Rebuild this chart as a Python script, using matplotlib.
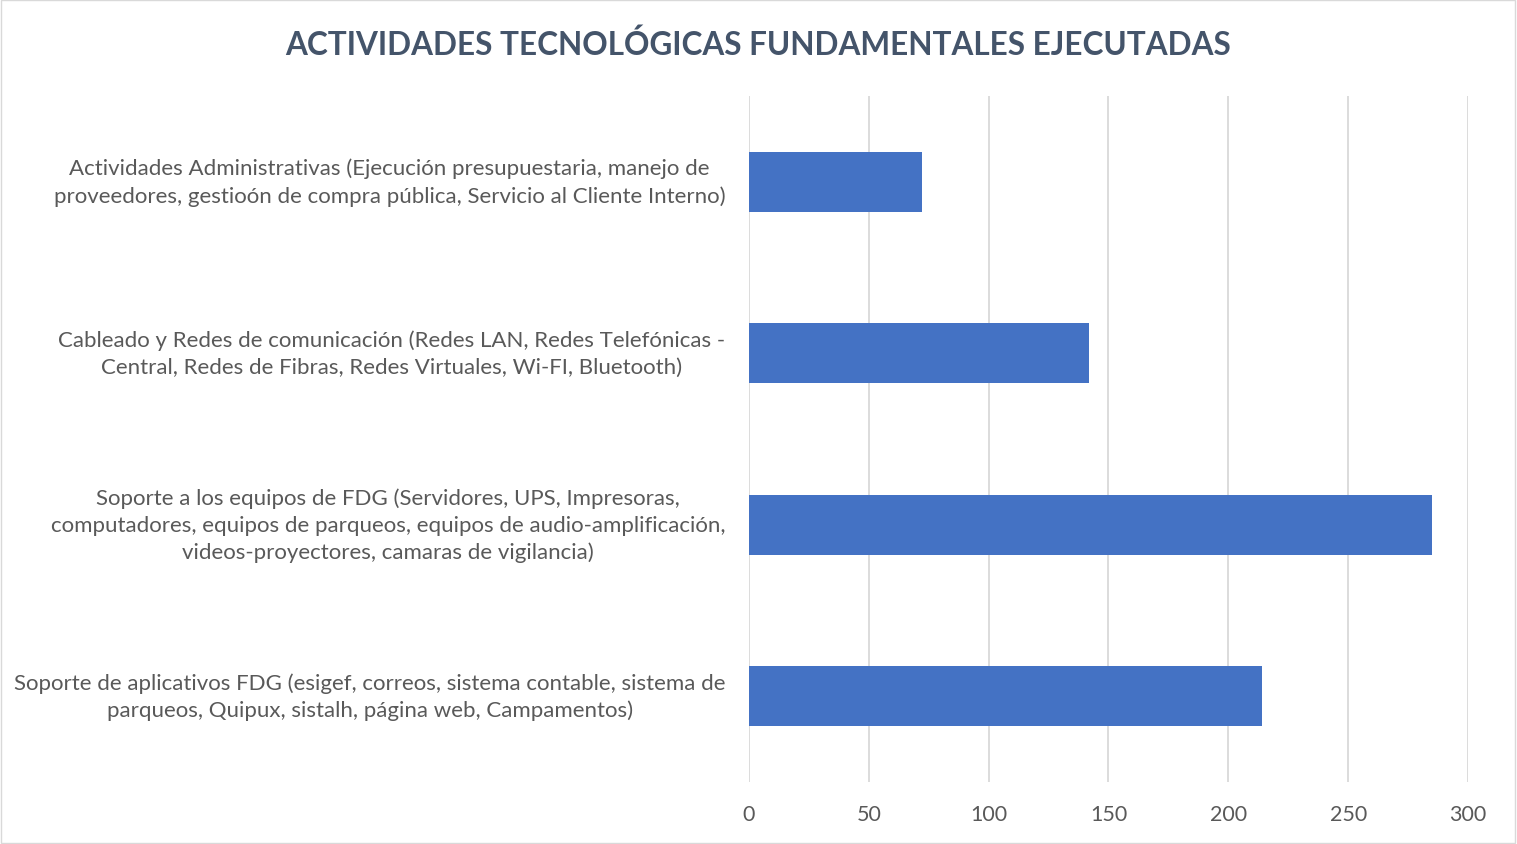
import matplotlib
matplotlib.use('Agg')
import matplotlib.pyplot as plt
from matplotlib.patches import Rectangle

plt.rcParams['font.family'] = ['Lato', 'DejaVu Sans']

# Data
categories = [
    'Actividades Administrativas (Ejecución presupuestaria, manejo de\nproveedores, gestioón de compra pública, Servicio al Cliente Interno)',
    'Cableado y Redes de comunicación (Redes LAN, Redes Telefónicas -\nCentral, Redes de Fibras, Redes Virtuales, Wi-FI, Bluetooth)',
    'Soporte a los equipos de FDG (Servidores, UPS, Impresoras,\ncomputadores, equipos de parqueos, equipos de audio-amplificación,\nvideos-proyectores, camaras de vigilancia)',
    'Soporte de aplicativos FDG (esigef, correos, sistema contable, sistema de\nparqueos, Quipux, sistalh, página web, Campamentos)',
]
values = [72, 142, 285, 214]
xticks = [0, 50, 100, 150, 200, 250, 300]

fig = plt.figure(figsize=(15.17, 8.45), dpi=100, facecolor='white')
ax = fig.add_axes([0.4937, 0.0734, 0.474, 0.8118])

ypos = list(range(len(categories)))
ax.barh(ypos, values, height=0.35, color='#4472C4', zorder=3)
ax.set_ylim(len(categories) - 0.5, -0.5)
ax.set_xlim(0, 300)
ax.set_xticks(xticks)
ax.set_yticks(ypos)
ax.set_yticklabels(categories, fontsize=16, color='#595959', ha='right', va='center',
                   multialignment='center', linespacing=1.4)
ax.tick_params(axis='y', length=0, pad=17)
ax.tick_params(axis='x', length=0, labelsize=15.5, labelcolor='#595959', pad=16)
ax.grid(axis='x', color='#D9D9D9', linewidth=1.3, zorder=0)
for s in ax.spines.values():
    s.set_visible(False)

fig.text(0.5, 0.947, 'ACTIVIDADES TECNOLÓGICAS FUNDAMENTALES EJECUTADAS',
         ha='center', va='center', fontsize=22.7, fontweight='bold', color='#44546A')

fig.patches.append(Rectangle((0.0005, 0.001), 0.998, 0.998, transform=fig.transFigure,
                             fill=False, edgecolor='#D9D9D9', linewidth=1))

fig.savefig('out.png', dpi=100)
